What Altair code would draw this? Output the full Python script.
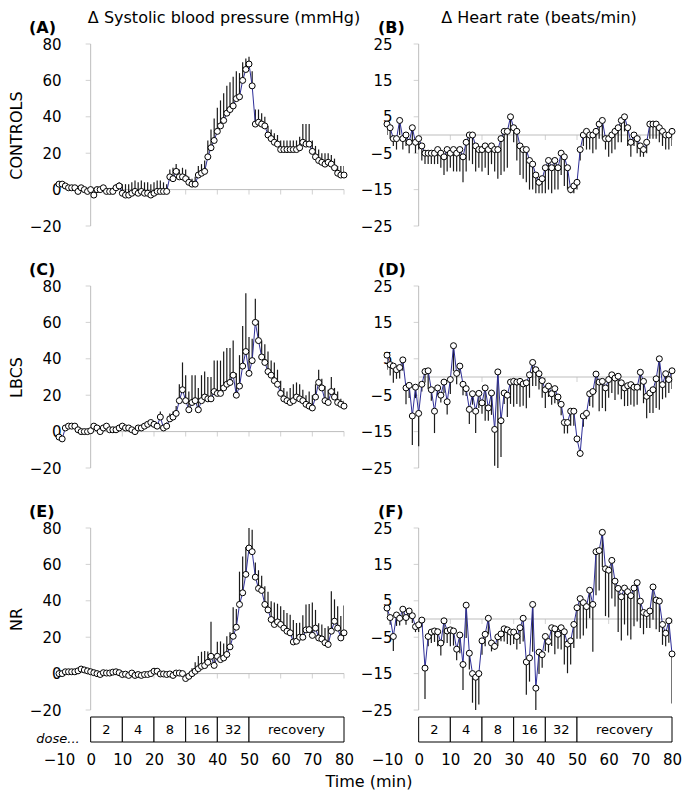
import altair as alt
import pandas as pd

FONT = "DejaVu Sans"
GREY = "#bdbdbd"
NAVY = "#2e2e98"
W, H = 285, 182

TIME = list(range(-10, 81))

# ---- (A) CONTROLS, systolic BP
A_VAL = [3, 3, 2, 1, 1, 1, -1, 1, 0, -1,
         0, -3, 0, 0, 1, -1, -1, -1, 1, 2,
         -2, -3, -3, -2, -1, -2, -1, -2, -2, -3,
         -2, -1, -1, -1, -1, 7, 6, 10, 7, 7,
         6, 4, 3, 3, 8, 9, 10, 18, 23, 27,
         32, 35, 38, 42, 44, 46, 50, 51, 60, 66,
         69, 57, 36, 37, 36, 35, 30, 28, 26, 25,
         22, 22, 22, 22, 22, 22, 23, 26, 25, 25,
         21, 18, 16, 15, 14, 15, 14, 12, 9, 8, 8]
A_ERR = [1, 1, 1, 1, 1, 1, 1, 1, 1, 1,
         1, 1, 1, 1, 1, 1, 1, 2, 2, 2,
         5, 6, 6, 6, 6, 6, 6, 6, 6, 6,
         6, 6, 6, 5, 4, 4, 6, 4, 4, 5,
         5, 3, 3, 4, 5, 5, 6, 9, 10, 12,
         13, 14, 15, 15, 15, 16, 15, 13, 10, 6,
         4, 8, 8, 7, 6, 5, 5, 5, 5, 5,
         5, 5, 5, 5, 5, 5, 6, 10, 11, 11,
         6, 6, 6, 5, 6, 5, 5, 5, 4, 5, 5]

# ---- (B) CONTROLS, heart rate
B_VAL = [3, 2, -1, -1, 4, -1, 0, -2, 2, -2,
         -1, -3, -5, -5, -5, -5, -4, -5, -6, -4,
         -5, -4, -5, -4, -6, -2, 0, 0, -3, -4,
         -4, -3, -4, -3, -4, -4, -1, 1, 1, 5,
         2, 1, -3, -4, -4, -7, -8, -11, -13, -12,
         -9, -7, -9, -7, -9, -5, -6, -9, -15, -14,
         -13, -4, 0, 1, 0, 0, 1, 3, 4, -1,
         -1, 0, 1, 2, 4, 5, 2, -2, 0, -1,
         -3, -4, -2, 3, 3, 3, 2, 1, 0, 0, 1]
B_ERR = [3, 3, 2, 3, 4, 3, 3, 3, 4, 3,
         3, 4, 3, 3, 3, 3, 4, 4, 5, 6,
         4, 6, 5, 6, 7, 8, 7, 8, 7, 5,
         6, 6, 7, 5, 6, 8, 10, 11, 10, 4,
         4, 8, 8, 8, 9, 8, 7, 5, 3, 4,
         7, 8, 7, 8, 6, 6, 8, 6, 1, 2,
         2, 3, 3, 5, 4, 5, 5, 4, 5, 3,
         5, 5, 5, 4, 6, 4, 5, 4, 3, 4,
         3, 2, 3, 4, 4, 4, 4, 4, 4, 4, 4]

# ---- (C) LBCS, systolic BP
C_VAL = [-3, -4, 2, 3, 3, 3, 1, 0, 0, 0,
         0.5, 3, 2, 0, 2, 3, 1, 1, 1, 2,
         3, 2, 2, 1, 0, 2, 2, 3, 4, 5,
         4, 3, 8, 2, 3, 7, 8, 10, 17, 23,
         17, 12, 16, 17, 12, 17, 19, 18, 18, 22,
         21, 21, 24, 26, 27, 31, 20, 25, 36, 44,
         32, 39, 60, 50, 41, 38, 33, 31, 28, 26,
         21, 18, 17, 16, 17, 19, 18, 17, 15, 14,
         13, 19, 27, 24, 17, 16, 22, 19, 16, 15, 14]
C_ERR = [1, 1, 1, 1, 1, 1, 1, 1, 1, 1,
         1, 1, 1, 1, 1, 1, 1, 1, 1, 1,
         1, 1, 1, 1, 1, 1, 1, 1, 1, 1,
         1, 1, 3, 1, 2, 3, 3, 4, 9, 15,
         14, 10, 15, 14, 12, 14, 14, 12, 12, 17,
         18, 18, 20, 20, 19, 19, 12, 17, 22, 32,
         20, 12, 13, 11, 9, 10, 11, 8, 10, 8,
         7, 6, 5, 8, 9, 8, 8, 6, 5, 8,
         7, 7, 7, 5, 8, 7, 8, 5, 6, 3, 3]

# ---- (D) LBCS, heart rate
D_VAL = [6, 3.4, 3, 2, 2.6, 4.7, -3, -2.3, -10.7, -2.8,
         -10, -2, 1.5, 1.7, -3.5, -9.4, -3, -5, -1.4, -6.8,
         -0.7, 8.6, 1, 3, -2, -3.2, -8.9, -4.6, -9.4, -4.5,
         -7.1, -3, -8.5, -4.4, -14.4, 1.4, -12, -4.4, -5, -1.4,
         -1.2, -1.4, -1.2, -1.9, -1.6, 0.6, 4, 2, 0.9, -1,
         -3.5, -2.5, -4.6, -3.2, -5.5, -7.5, -12.5, -12.5, -9.4, -9.4,
         -17, -21, -10.7, -10, -4.6, -4, 0.8, -1.4, -1.2, -3,
         -0.7, 0.6, -0.3, 0.2, -1.6, -3, -2.4, -2.1, -2.8, -2.8,
         1.3, -1.2, -5.3, -4.4, -3.5, -0.5, 5, -2.1, 0.9, -0.7, 1.7]
D_ERR = [4, 3, 4.6, 2.5, 3, 3, 4.5, 3.5, 8, 3,
         9, 2, 3, 5, 3, 6, 2, 2, 3, 3.5,
         4, 7, 3, 2, 3, 2, 4, 3, 6, 4,
         3, 9, 3.5, 6, 10, 27, 10, 3, 6, 6,
         7, 6, 7, 6, 7, 6.3, 6.5, 4.5, 4.3, 4.7,
         5, 3, 3, 4, 2, 3, 3, 3, 4, 4,
         1, 1, 3, 1.6, 3.4, 4.4, 5, 8, 7.3, 6.4,
         5, 5, 6, 5, 4.5, 5, 5.6, 5.5, 5.3, 4.8,
         5, 6, 6, 5.5, 6.4, 8, 14, 4, 6.5, 3.7, 5]

# ---- (E) NR, systolic BP
E_VAL = [0, 0, 1, 1, 1, 1, 1.5, 2.5, 2, 1.5,
         1, 0.5, 0, -0.5, 0.5, 0.3, 0.3, 0.8, 1, 0.5,
         -0.5, -0.3, -1, 0.3, -1, -0.5, -1, -0.5, -0.5, 0,
         1.3, 1.3, -0.2, -0.2, -0.5, -0.2, -1, 0.3, 0.3, 0,
         -2.7, -1.5, 0, 1.3, 2.7, 4, 4.4, 6.2, 9.5, 4.5,
         9.5, 7.7, 8.6, 10.5, 14.7, 20.5, 25.5, 38, 44.4, 54.5,
         69, 67, 53, 46.8, 45.7, 38, 35, 29.7, 27, 28.4,
         27, 25, 23.3, 22.4, 17.4, 17.8, 20, 20, 24, 24.2,
         21, 25, 19.6, 19, 17, 16, 23.3, 28.8, 25, 19.6, 22.4]
E_ERR = [1, 1, 1, 1, 1, 1, 1, 1, 1, 1,
         1, 1, 1, 1, 1, 1, 1, 1, 1, 1,
         1, 1, 1, 1, 1, 1, 1, 1, 1, 1,
         1, 1, 1, 1, 1, 1, 1, 1, 1, 1,
         1, 2, 3, 5, 7, 8, 8, 6, 19, 4,
         8, 10, 8, 10, 8, 16, 10, 18, 20, 15,
         15, 12, 8, 10, 8, 10, 10, 10, 12, 10,
         10, 10, 10, 10, 12, 10, 8, 12, 14, 14,
         18, 10, 8, 8, 8, 10, 22, 12, 12, 12, 15]

# ---- (F) NR, heart rate
F_VAL = [3, 0.4, -4.8, 1.1, 0.2, 2.7, 0.4, 2.2, 0.9, -2.1,
         -1.6, -0.3, -13.5, -4.8, -3.6, -3.3, -3.5, -6.6, -0.5, -3.3,
         -3, -3.3, -8.3, -4.4, -12.5, 3.8, -9.4, -15, -16, -15,
         -6, -4.2, 0.2, -6.6, -7.5, -4.9, -4.1, -2.7, -3, -3.6,
         -3.6, -4.8, -2.4, 0.2, -11.8, -10.7, 4, -19, -9.1, -9.8,
         -4.8, -6.2, -2.4, -2.7, -4.2, -2.4, -3.5, -6.9, -6, -1.5,
         3.1, 5.6, 4.5, 3.4, 7.9, 4, 18.5, 18.8, 23.8, 13.8,
         13.4, 16.1, 10.4, 8.4, 6.1, 8.5, 7.5, 6.4, 8.5, 10,
         4.9, 1.8, 1.5, 2.2, 8.8, 5.2, 4.9, -1.5, -3.9, -0.5, -9.6]
F_ERR = [2, 2, 4, 3, 2, 2, 2, 2, 2, 1.5,
         2, 2, 8.5, 2.7, 3, 3, 4, 3.4, 6, 3.3,
         4.5, 4, 3, 5, 7, 9, 4.5, 8, 9.7, 8.5,
         3.8, 3.3, 4.4, 2.3, 1, 2.5, 2, 3.5, 3.9, 3.6,
         3.3, 3.6, 4.5, 6.4, 9, 6.5, 13, 7, 6, 3.6,
         4, 3, 5, 7, 4, 6, 9, 8, 6.5, 6.5,
         8.5, 11, 9, 6, 7.7, 13, 12, 11, 9.5, 13,
         13, 10.5, 7, 12, 12, 10, 12, 12, 10.5, 10.7,
         7.4, 6, 4, 4.7, 9, 8, 8.5, 5.6, 3.6, 6, 13.6]

DOSE_START = [0, 10, 20, 30, 40, 50]
DOSE_END = [10, 20, 30, 40, 50, 80]
DOSE_LABEL = ["2", "4", "8", "16", "32", "recovery"]
X_TICKS = [-10, 0, 10, 20, 30, 40, 50, 60, 70, 80]
ZERO_TICKS = [10, 20, 30, 40, 50, 60, 70, 80]

ONE = pd.DataFrame({"a": [0]})


def panel(vals, errs, kind, label, label_x, row_title=None, heading=None,
          heading_x=None, bottom=False, dose_word=False, time_title=False):
    if kind == "bp":
        dom, yt, sign, lp = [-20, 80], [-20, 0, 20, 40, 60, 80], 1, -2
    else:
        dom, yt, sign, lp = [-25, 25], [-25, -15, -5, 5, 15, 25], -1, -5

    df = pd.DataFrame({"t": TIME, "v": vals, "e": errs})
    df["end"] = df["v"] + sign * df["e"]

    xs = alt.Scale(domain=[-10, 80], nice=False, zero=False)
    ys = alt.Scale(domain=dom, nice=False, zero=False)
    if bottom:
        xaxis = alt.Axis(values=X_TICKS, domain=False, ticks=False, tickSize=0,
                         grid=False, labelPadding=42, labelFontSize=15,
                         labelFont=FONT, labelColor="black", labelFlush=False,
                         labelOverlap=False)
    else:
        xaxis = None
    yaxis = alt.Axis(values=yt, domain=False, ticks=False, tickSize=0, grid=False,
                     labelPadding=lp, labelFontSize=15, labelFont=FONT,
                     labelColor="black", labelFlush=False, labelOverlap=False,
                     titleFont=FONT, titleFontSize=16, titleFontWeight="normal",
                     titleColor="black", titlePadding=5)

    def X(f):
        return alt.X(f, scale=xs, axis=xaxis, title=None)

    def Y(f):
        if row_title:
            return alt.Y(f, scale=ys, axis=yaxis, title=row_title)
        return alt.Y(f, scale=ys, axis=yaxis, title=None)

    base = alt.Chart(df)
    frame = pd.DataFrame({"x0": [0], "x1": [80], "y0": [0], "ylo": [dom[0]], "yhi": [dom[1]]})
    hline = alt.Chart(frame).mark_rule(color=GREY, strokeWidth=1).encode(
        x=X("x0:Q"), x2="x1:Q", y=Y("y0:Q"))
    vline = alt.Chart(frame).mark_rule(color=GREY, strokeWidth=1).encode(
        x=X("x0:Q"), y=Y("ylo:Q"), y2="yhi:Q")
    xt = alt.Chart(pd.DataFrame({"tx": ZERO_TICKS, "ty": [0] * len(ZERO_TICKS)})).mark_tick(
        orient="vertical", size=5, thickness=1, color=GREY, yOffset=2.5).encode(
        x=X("tx:Q"), y=Y("ty:Q"))
    yticks = alt.Chart(pd.DataFrame({"tx": [0] * len(yt), "ty": yt})).mark_tick(
        orient="horizontal", size=5, thickness=1, color=GREY, xOffset=-2.5).encode(
        x=X("tx:Q"), y=Y("ty:Q"))

    err = base.mark_rule(color="#1a1a1a", strokeWidth=1.2, clip=True).encode(
        x=X("t:Q"), y=Y("v:Q"), y2="end:Q")
    line = base.mark_line(color=NAVY, strokeWidth=1).encode(x=X("t:Q"), y=Y("v:Q"))
    pts = base.mark_circle(size=36, fill="white", stroke="black", strokeWidth=1,
                           opacity=1).encode(x=X("t:Q"), y=Y("v:Q"))

    layers = [hline, vline, xt, yticks, err, line, pts]

    layers.append(alt.Chart(ONE).mark_text(
        text=label, font=FONT, fontSize=16, fontWeight="bold", align="left",
        baseline="alphabetic", color="black").encode(x=alt.value(label_x), y=alt.value(-11)))
    if heading:
        layers.append(alt.Chart(ONE).mark_text(
            text=heading, font=FONT, fontSize=16, align="center",
            baseline="alphabetic", color="black").encode(x=alt.value(heading_x), y=alt.value(-21)))
    if bottom:
        ddf = pd.DataFrame({"start": DOSE_START, "end": DOSE_END, "label": DOSE_LABEL})
        ddf["mid"] = (ddf["start"] + ddf["end"]) / 2
        box = alt.Chart(ddf).mark_rect(fill="white", stroke="black", strokeWidth=1).encode(
            x=X("start:Q"), x2="end:Q", y=alt.value(H + 7), y2=alt.value(H + 32))
        btxt = alt.Chart(ddf).mark_text(font=FONT, fontSize=13, color="black",
                                        baseline="middle").encode(
            x=X("mid:Q"), y=alt.value(H + 20), text="label:N")
        layers += [box, btxt]
    if dose_word:
        layers.append(alt.Chart(ONE).mark_text(
            text="dose...", font=FONT, fontSize=13, fontStyle="italic", align="center",
            baseline="middle", color="black").encode(x=alt.value(-1), y=alt.value(H + 29)))
    if time_title:
        layers.append(alt.Chart(ONE).mark_text(
            text="Time (min)", font=FONT, fontSize=16, align="center",
            baseline="middle", color="black").encode(x=alt.value(310), y=alt.value(H + 72)))

    return alt.layer(*layers).properties(width=W, height=H)


pA = panel(A_VAL, A_ERR, "bp", "(A)", -30, row_title="CONTROLS",
           heading="\u0394 Systolic blood pressure (mmHg)", heading_x=165)
pB = panel(B_VAL, B_ERR, "hr", "(B)", -9,
           heading="\u0394 Heart rate (beats/min)", heading_x=152)
pC = panel(C_VAL, C_ERR, "bp", "(C)", -30, row_title="LBCS")
pD = panel(D_VAL, D_ERR, "hr", "(D)", -9)
pE = panel(E_VAL, E_ERR, "bp", "(E)", -30, row_title="NR", bottom=True,
           dose_word=True, time_title=True)
pF = panel(F_VAL, F_ERR, "hr", "(F)", -9, bottom=True)

chart = alt.concat(pA, pB, pC, pD, pE, pF, columns=2,
                   spacing={"row": 60, "column": 43}, bounds="flush").properties(
    padding={"left": 0, "top": 2, "right": 0, "bottom": 0}
).configure_view(stroke=None)

chart.save("out.html", embed_options={"renderer": "svg", "actions": False})
